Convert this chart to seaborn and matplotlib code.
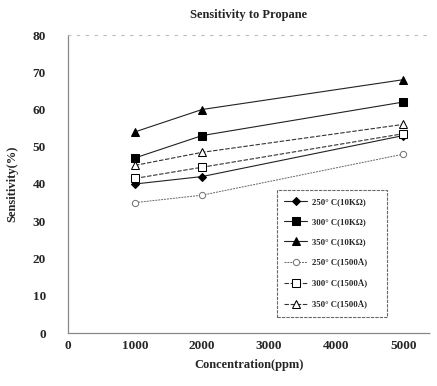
import matplotlib
matplotlib.use("Agg")
import matplotlib.pyplot as plt
import seaborn as sns
import pandas as pd

concentration = [1000, 2000, 5000]
s250_10k = [40, 42, 53]
s300_10k = [47, 53, 62]
s350_10k = [54, 60, 68]
s250_1500 = [35, 37, 48]
s300_1500 = [41.5, 44.5, 53.5]
s350_1500 = [45, 48.5, 56]
labels = ["250° C(10KΩ)", "300° C(10KΩ)", "350° C(10KΩ)",
          "250° C(1500Å)", "300° C(1500Å)", "350° C(1500Å)"]
series = [s250_10k, s300_10k, s350_10k, s250_1500, s300_1500, s350_1500]
xticks = [0, 1000, 2000, 3000, 4000, 5000]
yticks = [0, 10, 20, 30, 40, 50, 60, 70, 80]

sns.set_style("white")
plt.rcParams['font.family'] = ['Liberation Serif', 'DejaVu Serif']
plt.rcParams['font.weight'] = 'bold'

fig = plt.figure(figsize=(4.37, 3.86), dpi=100)
ax = fig.add_axes([68/437, 1-333/386, (430-68)/437, (333-35)/386])

styles = [
    dict(marker='D', markersize=4.5, markerfacecolor='black', markeredgecolor='black', color='#222222', linestyle='-', lw=0.8),
    dict(marker='s', markersize=6, markerfacecolor='black', markeredgecolor='black', color='#222222', linestyle='-', lw=0.8),
    dict(marker='^', markersize=6, markerfacecolor='black', markeredgecolor='black', color='#222222', linestyle='-', lw=0.8),
    dict(marker='o', markersize=4.5, markerfacecolor='white', markeredgecolor='#777777', color='#666666', linestyle=(0, (2, 1)), lw=0.7),
    dict(marker='s', markersize=6, markerfacecolor='white', markeredgecolor='black', color='#333333', linestyle=(0, (4, 1.5)), lw=0.8),
    dict(marker='^', markersize=6, markerfacecolor='white', markeredgecolor='black', color='#333333', linestyle=(0, (4, 1.5)), lw=0.8),
]

for vals, lab, st in zip(series, labels, styles):
    df = pd.DataFrame({"x": concentration, "y": vals})
    sns.lineplot(data=df, x="x", y="y", ax=ax, label=lab, **st)

ax.set_xlim(0, 5400)
ax.set_ylim(0, 80)
ax.set_xticks(xticks)
ax.set_yticks(yticks)
ax.set_xticklabels([str(t) for t in xticks], fontsize=9.5, fontweight='bold')
ax.set_yticklabels([str(t) for t in yticks], fontsize=9.5, fontweight='bold')
ax.tick_params(axis='both', direction='inout', length=4, width=0.8, color='#333333')
ax.tick_params(axis='y', pad=14)
ax.tick_params(axis='x', pad=3)

for side in ['left', 'bottom']:
    ax.spines[side].set_color('#888888')
    ax.spines[side].set_linewidth(0.9)
    ax.spines[side].set_linestyle((0, (1, 1)))
ax.spines['top'].set_color('#bbbbbb')
ax.spines['top'].set_linestyle((0, (2, 6)))
ax.spines['top'].set_linewidth(0.8)
ax.spines['right'].set_visible(False)

ax.set_xlabel("Concentration(ppm)", fontsize=9, fontweight='bold', labelpad=5)
ax.set_ylabel("Sensitivity(%)", fontsize=9, fontweight='bold', labelpad=10)
ax.set_title("Sensitivity to Propane", fontsize=9, fontweight='bold', pad=12)

leg = ax.legend(loc='lower left', bbox_to_anchor=(0.564, 0.04, 0.328, 0.44), mode='expand',
                frameon=True, fancybox=False, edgecolor='#444444',
                handlelength=2.6, labelspacing=1.4, borderpad=0.9, handletextpad=0.6,
                prop={'family': 'Liberation Serif', 'weight': 'bold', 'size': 6.3})
leg.get_frame().set_linewidth(0.8)
leg.get_frame().set_linestyle((0, (3, 1)))

fig.savefig("out.png", dpi=100)
